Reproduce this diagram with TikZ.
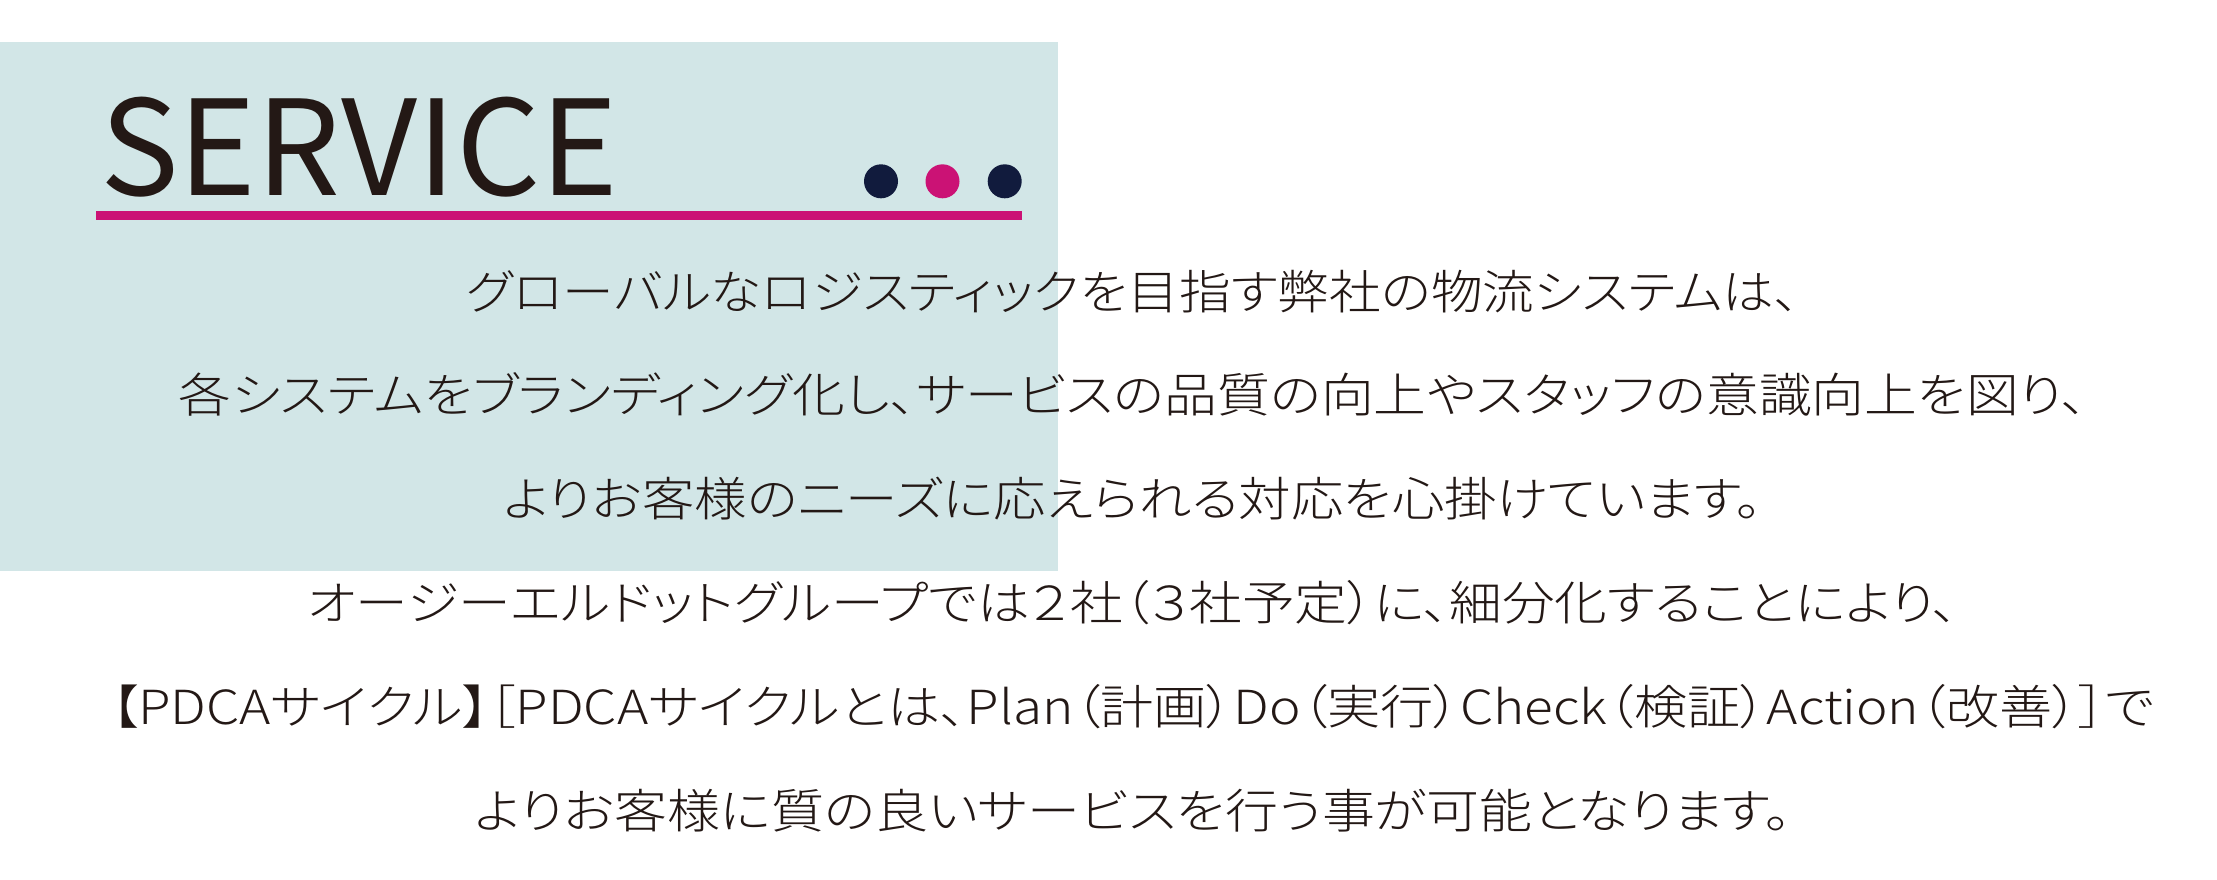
\documentclass[tikz,border=0pt]{standalone}
\usepackage{fontspec}
\usepackage{graphicx}
\IfFontExistsTF{Noto Sans CJK JP Light}
  {\newfontfamily\jpfont[RawFeature=+palt]{Noto Sans CJK JP Light}}
  {\IfFontExistsTF{Noto Sans CJK JP DemiLight}
    {\newfontfamily\jpfont[RawFeature=+palt]{Noto Sans CJK JP DemiLight}}
    {\newfontfamily\jpfont[RawFeature=+palt]{Noto Sans CJK JP}}}
\newfontfamily\titlefont{Noto Sans CJK JP}
\definecolor{bgblue}{HTML}{D2E6E7}
\definecolor{pinkline}{HTML}{CB1275}
\definecolor{navydot}{HTML}{111B3D}
\definecolor{inkblack}{HTML}{231815}
\tikzset{
  bodyline/.style={anchor=base, inner sep=0pt, text=inkblack, font=\jpfont\fontsize{47pt}{47pt}\selectfont},
  titletext/.style={anchor=base west, inner sep=0pt, text=inkblack, font=\titlefont\fontsize{132pt}{132pt}\selectfont},
  dotnode/.style={circle, inner sep=0pt, minimum size=34pt},
}
\newcommand{\fitw}[2]{\resizebox{#1pt}{\height}{#2}}
\begin{document}
\begin{tikzpicture}[x=1pt,y=-1pt]
\useasboundingbox (0,0) rectangle (2217,879);
\fill[bgblue] (0,42) rectangle (1058,571);
\node[titletext] (title) at (100,195) {\fitw{518}{SERVICE}};
\fill[pinkline] (95.5,211) rectangle (1022,220);
\node[dotnode, fill=navydot] (d1) at (881,181.3) {};
\node[dotnode, fill=pinkline] (d2) at (942.5,181.3) {};
\node[dotnode, fill=navydot] (d3) at (1004.7,181.3) {};
\node[bodyline] (l1) at (1133,309) {\fitw{1334}{グローバルなロジスティックを目指す弊社の物流システムは、}};
\node[bodyline] (l2) at (1133,412.5) {\fitw{1908}{各システムをブランディング化し、サービスの品質の向上やスタッフの意識向上を図り、}};
\node[bodyline] (l3) at (1133,516) {\fitw{1259}{よりお客様のニーズに応えられる対応を心掛けています。}};
\node[bodyline] (l4) at (1133,620) {\fitw{1651}{オージーエルドットグループでは２社（３社予定）に、細分化することにより、}};
\node[bodyline] (l5) at (1133,724) {\fitw{2043}{【PDCAサイクル】［PDCAサイクルとは、Plan（計画）Do（実行）Check（検証）Action（改善）］で}};
\node[bodyline] (l6) at (1133,828) {\fitw{1317}{よりお客様に質の良いサービスを行う事が可能となります。}};
\end{tikzpicture}
\end{document}
